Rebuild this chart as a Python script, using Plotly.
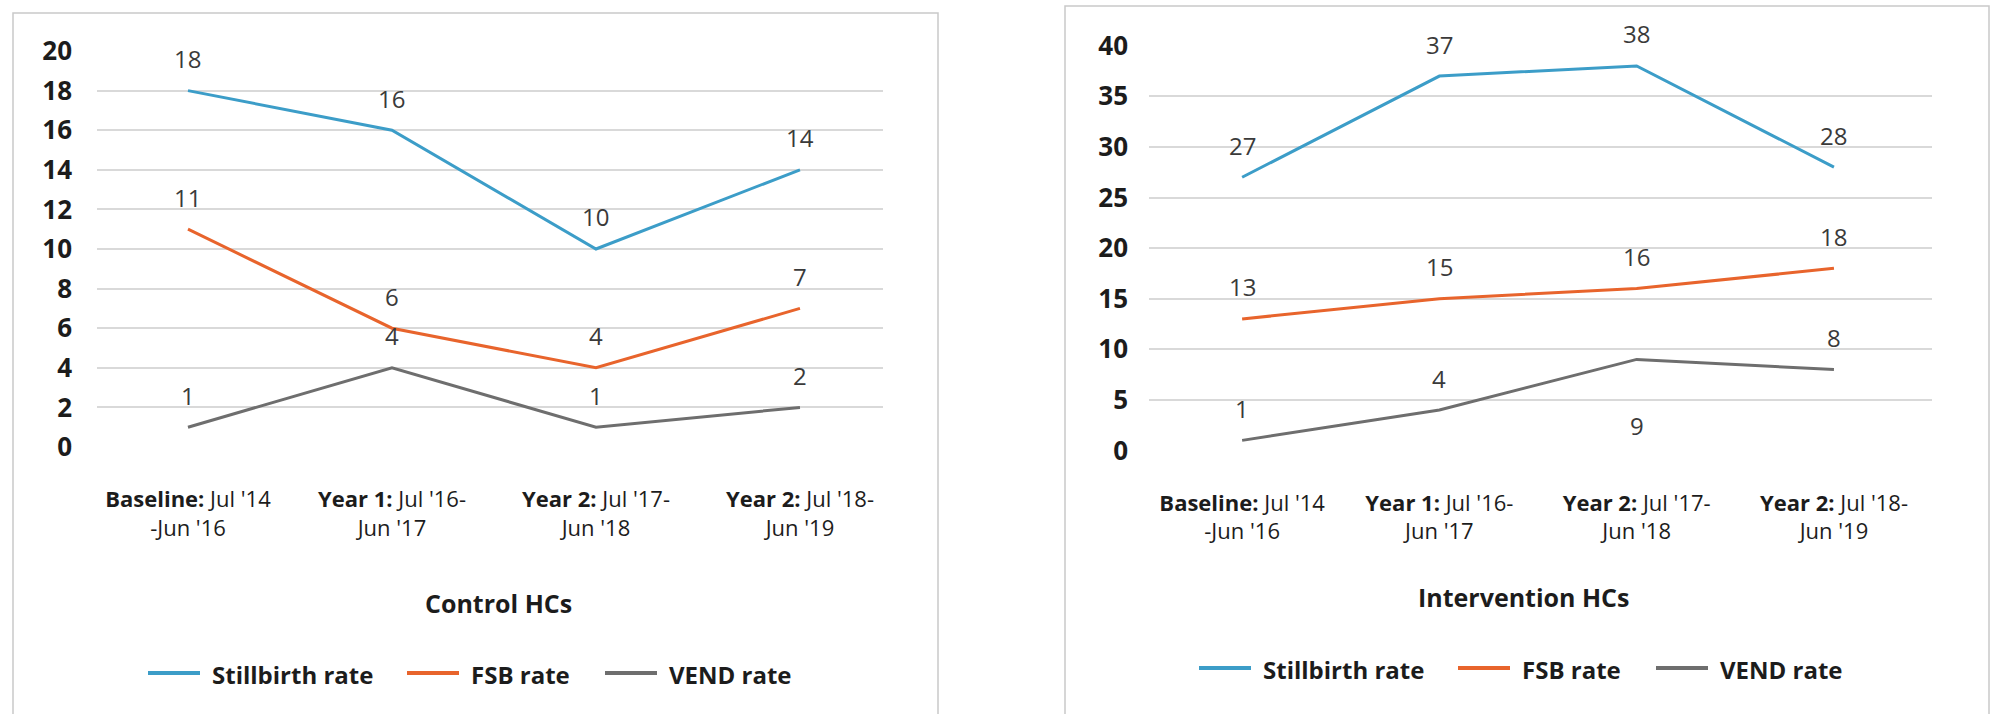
import plotly.graph_objects as go

W, H = 1992, 714

# Period labels (bold lead-in, then the date span on two lines)
categories = [
    "<b>Baseline:</b> Jul '14<br>-Jun '16",
    "<b>Year 1:</b> Jul '16-<br>Jun '17",
    "<b>Year 2:</b> Jul '17-<br>Jun '18",
    "<b>Year 2:</b> Jul '18-<br>Jun '19",
]
series_names = ["Stillbirth rate", "FSB rate", "VEND rate"]

control_stillbirth = [18, 16, 10, 14]
control_fsb = [11, 6, 4, 7]
control_vend = [1, 4, 1, 2]

intervention_stillbirth = [27, 37, 38, 28]
intervention_fsb = [13, 15, 16, 18]
intervention_vend = [1, 4, 9, 8]

control_yticks = [0, 2, 4, 6, 8, 10, 12, 14, 16, 18, 20]
intervention_yticks = [0, 5, 10, 15, 20, 25, 30, 35, 40]

panel_titles = ["Control HCs", "Intervention HCs"]

colors = ["#3c9dc8", "#e8642c", "#6e6e6e"]
GRID = "#d9d9d9"
BORDER = "#c9c9c9"
TEXT = "#1c1c1c"
LABEL = "#3a3a3a"
FONT = "Open Sans, Lato, sans-serif"


def px(x):
    return x / W


def py(y):
    return 1 - y / H


x_pos = list(range(len(categories)))

panels = [
    dict(
        values=[control_stillbirth, control_fsb, control_vend],
        yticks=control_yticks,
        xa="x", ya="y",
        below=set(),
    ),
    dict(
        values=[intervention_stillbirth, intervention_fsb, intervention_vend],
        yticks=intervention_yticks,
        xa="x2", ya="y2",
        below={(2, 2)},  # VEND label for Year 2 sits under the line
    ),
]

fig = go.Figure()
annotations = []

for p in panels:
    for s, (name, vals) in enumerate(zip(series_names, p["values"])):
        fig.add_trace(go.Scatter(
            x=x_pos, y=vals, mode="lines", name=name,
            line=dict(color=colors[s], width=3),
            xaxis=p["xa"], yaxis=p["ya"],
            cliponaxis=False, showlegend=False, hoverinfo="skip",
        ))
        for i, v in enumerate(vals):
            annotations.append(dict(
                x=x_pos[i], y=v, xref=p["xa"], yref=p["ya"],
                text=str(v), showarrow=False,
                yshift=-66 if (s, i) in p["below"] else 32,
                font=dict(family=FONT, size=24, color=LABEL),
            ))

# Panel titles
title_pos = [(498, 603), (1523, 597)]
for t, (cx, cy) in zip(panel_titles, title_pos):
    annotations.append(dict(
        x=px(cx), y=py(cy), xref="paper", yref="paper",
        text=f"<b>{t}</b>", showarrow=False,
        xanchor="center", yanchor="middle",
        font=dict(family=FONT, size=25, color=TEXT),
    ))

# Legends: line swatch followed by the series name
shapes = []
legend_origin = [(148, 673), (1199, 668)]
item_offsets = [0, 259, 457]
for ox, oy in legend_origin:
    for s, name in enumerate(series_names):
        x0 = ox + item_offsets[s]
        shapes.append(dict(
            type="line", xref="paper", yref="paper",
            x0=px(x0), x1=px(x0 + 52), y0=py(oy), y1=py(oy),
            line=dict(color=colors[s], width=4),
        ))
        annotations.append(dict(
            x=px(x0 + 62), y=py(oy + 1), xref="paper", yref="paper",
            text=f"<b>{name}</b>", showarrow=False,
            xanchor="left", yanchor="middle",
            font=dict(family=FONT, size=24, color=TEXT),
        ))

# Panel frames
shapes.append(dict(type="rect", xref="paper", yref="paper",
                   x0=px(13), x1=px(938), y0=py(13), y1=py(H + 20),
                   line=dict(color=BORDER, width=1.5)))
shapes.append(dict(type="rect", xref="paper", yref="paper",
                   x0=px(1065), x1=px(1989), y0=py(6), y1=py(H + 20),
                   line=dict(color=BORDER, width=1.5)))

xaxis_common = dict(
    tickvals=x_pos, ticktext=categories, showgrid=False, zeroline=False,
    showline=False, ticks="", ticklabelstandoff=37, automargin=False,
    tickfont=dict(family=FONT, size=22, color=TEXT),
)
yaxis_common = dict(
    showgrid=True, gridcolor=GRID, gridwidth=1.5, zeroline=False,
    showline=False, ticks="", automargin=False,
    tickfont=dict(family=FONT, size=26, color=TEXT, weight="bold"),
)

fig.update_layout(
    width=W, height=H,
    margin=dict(l=0, r=0, t=0, b=0, pad=0, autoexpand=False),
    paper_bgcolor="white", plot_bgcolor="white",
    showlegend=False,
    xaxis=dict(domain=[px(97), px(883)], range=[-0.446, 3.407],
               anchor="y", **xaxis_common),
    yaxis=dict(domain=[py(447), py(51)], range=[0, 20],
               tickvals=control_yticks, anchor="x",
               ticklabelstandoff=24, **yaxis_common),
    xaxis2=dict(domain=[px(1149), px(1932)], range=[-0.472, 3.497],
                anchor="y2", **xaxis_common),
    yaxis2=dict(domain=[py(450.5), py(45.7)], range=[0, 40],
                tickvals=intervention_yticks, anchor="x2",
                ticklabelstandoff=20, **yaxis_common),
    annotations=annotations,
    shapes=shapes,
)

fig.write_html("out.html")
